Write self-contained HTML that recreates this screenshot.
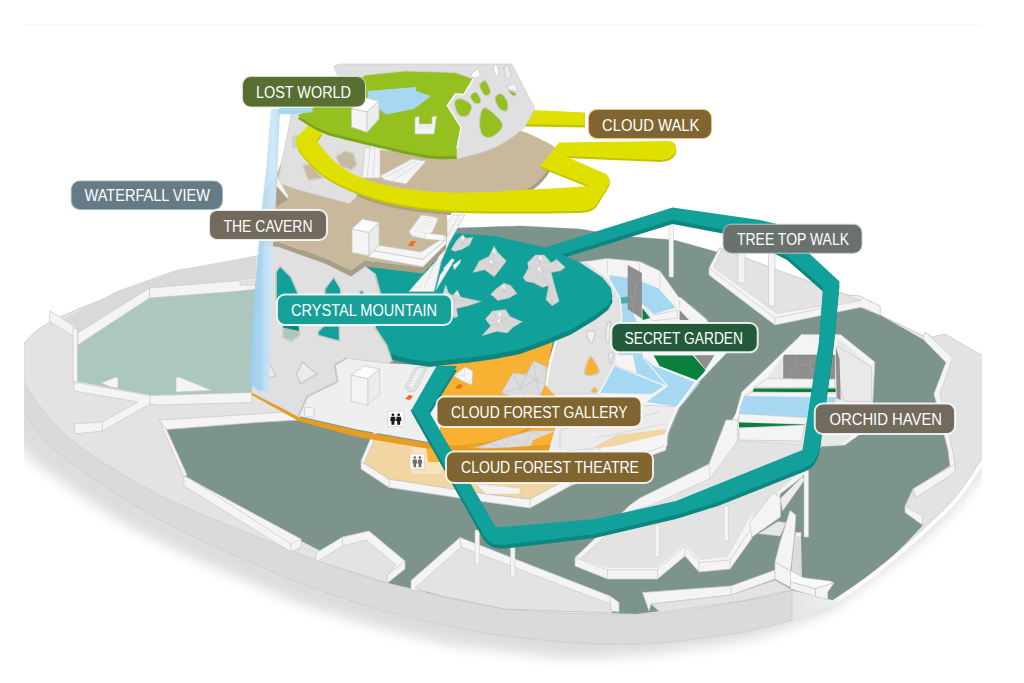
<!DOCTYPE html>
<html lang="en"><head><meta charset="utf-8"><title>Cloud Forest map</title>
<style>
html,body{margin:0;padding:0;background:#fff;}
body{width:1024px;height:683px;overflow:hidden;font-family:"Liberation Sans",sans-serif;}
svg{display:block}
svg text{font-family:"Liberation Sans",sans-serif;fill:#fff}
</style></head><body>
<svg width="1024" height="683" viewBox="0 0 1024 683">
<defs>
<clipPath id="clip"><rect x="24" y="0" width="958" height="683"/></clipPath>
<filter id="blur" x="-10%" y="-10%" width="120%" height="130%"><feGaussianBlur stdDeviation="6.5"/></filter>
<linearGradient id="wf" x1="0" y1="0" x2="1" y2="0">
<stop offset="0" stop-color="#9acbed"/><stop offset="0.38" stop-color="#a3d3f1"/><stop offset="0.5" stop-color="#bcdff5"/><stop offset="0.8" stop-color="#cde7f8"/><stop offset="1" stop-color="#b3dbf4"/>
</linearGradient>
<linearGradient id="rimg" gradientUnits="userSpaceOnUse" x1="0" y1="0" x2="1024" y2="0">
<stop offset="0" stop-color="#dadada"/><stop offset="0.773" stop-color="#dadada"/><stop offset="0.774" stop-color="#e6e6e6"/><stop offset="0.81" stop-color="#ececec"/><stop offset="0.83" stop-color="#fbfbfb"/><stop offset="1" stop-color="#fdfdfd"/>
</linearGradient>
</defs>
<rect x="0" y="0" width="1024" height="683" fill="#ffffff"/>
<rect x="24" y="24.5" width="958" height="1" fill="#f6f6f6"/>
<g clip-path="url(#clip)">
<path d="M990,440 L800,560 L600,590 L300,520 L0,370 L0.0,395.0 C1.2,400.0 4.2,417.0 7.0,425.0 C9.8,433.0 12.7,437.0 17.0,443.0 C21.3,449.0 26.3,455.2 33.0,461.0 C39.7,466.8 48.7,472.0 57.0,478.0 C65.3,484.0 72.0,489.5 83.0,497.0 C94.0,504.5 110.7,515.8 123.0,523.0 C135.3,530.2 147.0,535.0 157.0,540.0 C167.0,545.0 172.0,547.8 183.0,553.0 C194.0,558.2 209.7,565.2 223.0,571.0 C236.3,576.8 251.3,583.0 263.0,588.0 C274.7,593.0 281.3,596.7 293.0,601.0 C304.7,605.3 321.3,610.3 333.0,614.0 C344.7,617.7 353.0,620.2 363.0,623.0 C373.0,625.8 378.0,627.3 393.0,631.0 C408.0,634.7 437.2,642.0 453.0,645.0 C468.8,648.0 473.0,647.2 488.0,649.0 C503.0,650.8 527.2,654.5 543.0,656.0 C558.8,657.5 569.9,658.0 583.0,658.0 C596.1,658.0 609.3,656.5 621.9,655.7 C634.5,655.0 648.0,654.7 658.6,653.5 C669.2,652.3 676.6,649.9 685.6,648.6 C694.6,647.3 700.9,647.6 712.6,645.7 C724.3,643.8 742.8,640.5 755.8,637.2 C768.8,634.0 778.1,630.5 790.4,626.1 C802.6,621.7 819.7,615.4 829.2,610.8 C838.8,606.1 837.8,605.5 847.6,598.2 C857.4,590.9 874.9,577.2 888.0,567.0 C901.1,556.8 913.8,548.0 926.0,537.0 C938.2,526.0 949.8,514.3 961.0,501.0 C972.2,487.7 987.7,464.3 993.0,457.0 Z" fill="#dddddd" filter="url(#blur)"/>
<path d="M24,343 C32,334 40,327 50,322 C90,302 170,272 256,256 L300,250 L457,228 L520,226 L580,229 L620,236 L674,240 L717,252 L720,248 L780,272 L847,295 L859,296 L880,306 L880,315 L924,336 L925,332.5 L932,337 L945,334 L990,360 L994,450 C992.6,451.9 991.3,453.3 985.5,461.6 C979.7,469.9 968.4,488.5 959.0,499.8 C949.6,511.1 939.2,520.1 929.4,529.4 C919.6,538.7 909.8,547.2 900.0,555.5 C890.2,563.8 881.3,571.4 870.6,579.4 C859.9,587.4 841.8,599.7 836.0,603.8 L828,606 L792,620 C760,630 720,637 695,639 C670,643 650,644 636,644 C600,645 560,643 505,636 C470,632 410,618 380,610 C350,601 310,588 280,575 C240,558 200,540 174,527 C140,510 100,484 74,465 C50,448 34,430 24,412 Z" fill="url(#rimg)" />
<path d="M24,412 C34,430 50,448 74,465 C100,484 140,510 174,527 C200,540 240,558 280,575 C310,588 350,601 380,610 C410,618 470,632 505,636 C560,643 600,645 636,644 C650,644 670,643 695,639 C720,637 760,630 792,620 L792,590" fill="none" stroke="#cccccc" stroke-width="0.8" stroke-linejoin="round" stroke-linecap="round" />
<path d="M24,343 C32,334 40,327 50,322 C90,302 170,272 256,256 L300,250 L457,228 L520,226 L580,229 L620,236 L674,240 L717,252 L720,248 L780,272 L847,295 L859,296 L880,306 L880,315 L924,336 L925,332.5 L932,337 L945,334 L990,360 L990,446 C988.7,448.1 987.7,450.2 982.0,458.6 C976.3,467.0 965.0,485.4 955.7,496.6 C946.4,507.8 936.2,516.8 926.4,526.0 C916.6,535.2 906.8,543.7 897.0,552.0 C887.2,560.3 878.5,567.7 867.8,575.7 C857.1,583.7 838.6,596.0 832.7,600.0 L792,590 C775,596 760,599 742,601 C700,609 670,614 636,614 C600,615 560,614 505,609 C470,604 410,590 380,581 C350,572 310,559 280,546 C240,530 200,514 174,502 C140,486 100,462 74,442 C50,422 34,400 24,382 Z" fill="#e3e3e3" stroke="#cdcdcd" stroke-width="0.8" stroke-linejoin="round" stroke-linecap="round" />
<path d="M163,425 L256,418 L300,415 L420,300 L457,228 L520,226 L580,229 L620,236 L674,240 L717,252 L880,315 L924,340 L946,362 L934,394 L950,440 L955,464 L913,489 L905,506 L923.5,524.5 C919.1,529.1 906.3,543.5 897.0,552.0 C887.7,560.5 878.5,567.7 867.8,575.7 C857.1,583.7 838.6,596.0 832.7,600.0 L792,590 L742,601 L636,614 L505,609 L442,596 L380,581 L301,541 L186,477 Z" fill="#7c948c" />
<polygon points="150,296 240,290 264,288 252,393 157,395 150,395 75,381 77.5,345" fill="#abc7be" />
<polygon points="50,311 76,327 78,333 149,288 240,280 256,278 256,256 176,270 117,291 51,326" fill="#d9d9d9" />
<polygon points="149.4,288 240,280.5 240,285 256,285 256,289 240,291 149.4,298" fill="#f4f4f4" stroke="#c9c9c9" stroke-width="0.7" stroke-linejoin="round" />
<polygon points="149.4,288 149.4,298 77.6,345 77.6,333" fill="#f4f4f4" stroke="#c9c9c9" stroke-width="0.7" stroke-linejoin="round" />
<polygon points="49.8,310.7 76,327.4 76,337.7 49.8,321.6" fill="#f4f4f4" stroke="#c9c9c9" stroke-width="0.7" stroke-linejoin="round" />
<polygon points="73,327 77.6,330 77.6,382 73,382" fill="#f4f4f4" stroke="#c9c9c9" stroke-width="0.7" stroke-linejoin="round" />
<polygon points="74,382 150,395.5 157,395.5 252,392.5 252,402.5 159,405 150,404 102.5,431 75,434 74,424 102,422 138,402 74,391" fill="#f4f4f4" stroke="#c9c9c9" stroke-width="0.7" stroke-linejoin="round" />
<polyline points="150,395.5 150,404" fill="none" stroke="#c9c9c9" stroke-width="0.7" stroke-linejoin="round" stroke-linecap="round" />
<polyline points="102,422 102.5,431" fill="none" stroke="#c9c9c9" stroke-width="0.7" stroke-linejoin="round" stroke-linecap="round" />
<polygon points="101,383 116,377 118,378 118,388 110,387" fill="#f4f4f4" stroke="#c9c9c9" stroke-width="0.7" stroke-linejoin="round" />
<polygon points="176,377.5 179,377 212,390.5 176,392" fill="#f4f4f4" stroke="#c9c9c9" stroke-width="0.7" stroke-linejoin="round" />
<polygon points="159,420 256,414 300,411 300,420 256,422.5 166.5,429.5" fill="#f4f4f4" stroke="#c9c9c9" stroke-width="0.7" stroke-linejoin="round" />
<polygon points="159,420 166.5,429.5 187,475 184,477" fill="#f4f4f4" stroke="#c9c9c9" stroke-width="0.7" stroke-linejoin="round" />
<polygon points="184,476 301,539 301,547 291,552 184,486" fill="#f4f4f4" stroke="#c9c9c9" stroke-width="0.7" stroke-linejoin="round" />
<polyline points="291,544 301,539" fill="none" stroke="#c9c9c9" stroke-width="0.7" stroke-linejoin="round" stroke-linecap="round" />
<polyline points="291,544 291,552" fill="none" stroke="#c9c9c9" stroke-width="0.7" stroke-linejoin="round" stroke-linecap="round" />
<polyline points="186,476 291,544" fill="none" stroke="#c9c9c9" stroke-width="0.7" stroke-linejoin="round" stroke-linecap="round" />
<polygon points="316,553 342.5,537 369,531 405,561 405,569 387.5,583 316,561" fill="#f4f4f4" stroke="#c9c9c9" stroke-width="0.7" stroke-linejoin="round" />
<polygon points="318,561 342.5,546 366,540 396,565 387.5,575 387.5,583" fill="#e3e3e3" stroke="#c9c9c9" stroke-width="0.7" stroke-linejoin="round" />
<polyline points="342.5,537 342.5,546" fill="none" stroke="#c9c9c9" stroke-width="0.7" stroke-linejoin="round" stroke-linecap="round" />
<polyline points="405,561 387.5,575" fill="none" stroke="#c9c9c9" stroke-width="0.7" stroke-linejoin="round" stroke-linecap="round" />
<polygon points="411,580.5 460,537.5 610,596 619,602.5 619,612 411,590" fill="#f4f4f4" stroke="#c9c9c9" stroke-width="0.7" stroke-linejoin="round" />
<polygon points="415,588 461,547 610,604 612,613 505,609 442,596" fill="#e3e3e3" stroke="#c9c9c9" stroke-width="0.7" stroke-linejoin="round" />
<polyline points="610,596 610,604" fill="none" stroke="#c9c9c9" stroke-width="0.7" stroke-linejoin="round" stroke-linecap="round" />
<polyline points="460,537.5 461,547" fill="none" stroke="#c9c9c9" stroke-width="0.7" stroke-linejoin="round" stroke-linecap="round" />
<polygon points="361,461 389,479 486,494 530,499 570,477.5 666,442.5 666,450 570,486 530,508 486,502 389,487.5 361,469" fill="#f4f4f4" stroke="#c9c9c9" stroke-width="0.7" stroke-linejoin="round" />
<polyline points="389,479 389,487.5" fill="none" stroke="#c9c9c9" stroke-width="0.7" stroke-linejoin="round" stroke-linecap="round" />
<polyline points="530,499 530,508" fill="none" stroke="#c9c9c9" stroke-width="0.7" stroke-linejoin="round" stroke-linecap="round" />
<polyline points="570,477.5 570,486" fill="none" stroke="#c9c9c9" stroke-width="0.7" stroke-linejoin="round" stroke-linecap="round" />
<polygon points="377,436 412,442 486,450 600,436 640,428 666,442.5 570,477.5 530,499 486,494 389,479 361,461" fill="#f1d5a2" stroke="#c9c9c9" stroke-width="0.7" stroke-linejoin="round" />
<polygon points="414.5,444.5 441.8,444.5 470,447 520,452 556,445 600,438 640,430 600,436 560,452 520,462 445.7,462 428,462 426,454 414.5,446.5" fill="#f8b133" />
<polygon points="411.5,446.5 426,446.5 428,462 441.8,462 441.8,474 411.5,474" fill="#f6e2bd" />
<polygon points="476,484 520,488 520,494 486,494" fill="#f3f3f3" stroke="#c9c9c9" stroke-width="0.4" stroke-linejoin="round" />
<polygon points="376,426 379.5,427 364,463 361,461" fill="#f4f4f4" stroke="#c9c9c9" stroke-width="0.7" stroke-linejoin="round" />
<polygon points="425,360 556,338 552.7,341.4 548.9,360.4 547,385 554.6,394.7 556,425 548,450 486,452 430,446 412,410" fill="#f8b133" />
<path d="M448,447 C480,446 510,440 530,428" fill="none" stroke="#e59d22" stroke-width="2.2" stroke-linejoin="round" stroke-linecap="round" />
<polygon points="453.8,375.7 465,367 472.8,371 471.8,385 461.4,380.4" fill="#f6f6f6" stroke="#c9c9c9" stroke-width="0.7" stroke-linejoin="round" />
<polyline points="465,367 464,376 471.8,385" fill="none" stroke="#c9c9c9" stroke-width="0.4" stroke-linejoin="round" stroke-linecap="round" />
<polyline points="453.8,375.7 464,376" fill="none" stroke="#c9c9c9" stroke-width="0.4" stroke-linejoin="round" stroke-linecap="round" />
<polygon points="501.3,392.8 512.7,372.8 526,374.7 533.7,360.4 547,367 545,385 540,396 515,398" fill="#dcdcdc" stroke="#b9b9b9" stroke-width="0.5" stroke-linejoin="round" />
<polyline points="512.7,372.8 520,388 533.7,360.4 536,380 547,367" fill="none" stroke="#b9b9b9" stroke-width="0.4" stroke-linejoin="round" stroke-linecap="round" />
<polyline points="501.3,392.8 520,388 536,380 545,385" fill="none" stroke="#b9b9b9" stroke-width="0.4" stroke-linejoin="round" stroke-linecap="round" />
<polyline points="526,374.7 536,380 540,396" fill="none" stroke="#b9b9b9" stroke-width="0.4" stroke-linejoin="round" stroke-linecap="round" />
<polyline points="520,388 528,398" fill="none" stroke="#b9b9b9" stroke-width="0.4" stroke-linejoin="round" stroke-linecap="round" />
<polygon points="474.7,448 509,436.5 531.8,430.8 556.5,430.8 548,440 524,448" fill="#dcdcdc" stroke="#b9b9b9" stroke-width="0.5" stroke-linejoin="round" />
<polyline points="509,436.5 524,448 531.8,430.8 548,440" fill="none" stroke="#b9b9b9" stroke-width="0.4" stroke-linejoin="round" stroke-linecap="round" />
<polyline points="490,443 505,448 509,436.5" fill="none" stroke="#b9b9b9" stroke-width="0.4" stroke-linejoin="round" stroke-linecap="round" />
<polygon points="533,440 556,431 552,442 530,448" fill="#f8b133" />
<polygon points="251.7,392.5 298.6,417 357,430.6 423.6,442.3 486,449 560,444 560,452 486,456 423.6,448 357,437 298.6,421 251.7,395" fill="#e59d22" />
<polygon points="298.6,416 307.4,396.4 337.6,381.75 334.7,365 346.4,358.3 388.4,363.2 440,366 440,443 423.6,441.3 357,429.6" fill="#efefef" />
<polygon points="304.5,407 314,408 314,417.5 304.5,416" fill="#f4f4f4" stroke="#c9c9c9" stroke-width="0.7" stroke-linejoin="round" />
<polygon points="351.3,375 351.3,401.3 368,405.2 368,378.8" fill="#f4f4f4" stroke="#c9c9c9" stroke-width="0.7" stroke-linejoin="round" />
<polygon points="351.3,375 364,366 379.6,369 368,378.8" fill="#fbfbfb" stroke="#c9c9c9" stroke-width="0.7" stroke-linejoin="round" />
<polygon points="368,378.8 379.6,369 379.6,394.5 368,405.2" fill="#ececec" stroke="#c9c9c9" stroke-width="0.7" stroke-linejoin="round" />
<polygon points="405,386.6 415.8,367 427.5,367 416,390.5 409,392" fill="#e2e2e2" stroke="#c9c9c9" stroke-width="0.7" stroke-linejoin="round" />
<polygon points="408,387 418,368 424,368 413,388" fill="#f4f4f4" stroke="#c9c9c9" stroke-width="0.4" stroke-linejoin="round" />
<polyline points="409.0,386.0 414.0,386.5" fill="none" stroke="#d0d0d0" stroke-width="0.4" stroke-linejoin="round" stroke-linecap="round" />
<polyline points="410.5,383.3 415.5,383.8" fill="none" stroke="#d0d0d0" stroke-width="0.4" stroke-linejoin="round" stroke-linecap="round" />
<polyline points="412.0,380.6 417.0,381.1" fill="none" stroke="#d0d0d0" stroke-width="0.4" stroke-linejoin="round" stroke-linecap="round" />
<polyline points="413.5,377.9 418.5,378.4" fill="none" stroke="#d0d0d0" stroke-width="0.4" stroke-linejoin="round" stroke-linecap="round" />
<polyline points="415.0,375.2 420.0,375.7" fill="none" stroke="#d0d0d0" stroke-width="0.4" stroke-linejoin="round" stroke-linecap="round" />
<polyline points="416.5,372.5 421.5,373.0" fill="none" stroke="#d0d0d0" stroke-width="0.4" stroke-linejoin="round" stroke-linecap="round" />
<polyline points="418.0,369.8 423.0,370.3" fill="none" stroke="#d0d0d0" stroke-width="0.4" stroke-linejoin="round" stroke-linecap="round" />
<polygon points="405,399 409,395 413,396 410,400" fill="#f26a21" />
<polygon points="455,388 459,384 463,385 460,389" fill="#f26a21" />
<g opacity="1"><rect x="387.5" y="411" width="16.5" height="15.7" fill="#ffffff" stroke="#c9c9c9" stroke-width="0.6"/>
<circle cx="392.9" cy="414.8" r="1.40" fill="#1a1a1a"/>
<path d="M390.8,416.7 h4.3 l0.5,4.2 h-1.2 v3.9 h-3.0 v-3.9 h-1.2 Z" fill="#1a1a1a"/>
<circle cx="398.7" cy="414.8" r="1.40" fill="#1a1a1a"/>
<path d="M396.6,416.7 h4.3 l0.5,4.2 h-1.2 v3.9 h-3.0 v-3.9 h-1.2 Z" fill="#1a1a1a"/>
</g>
<g opacity="0.85"><rect x="410" y="454" width="14.5" height="15" fill="#ffffff" stroke="#c9c9c9" stroke-width="0.6"/>
<circle cx="414.8" cy="457.6" r="1.23" fill="#555555"/>
<path d="M412.9,459.4 h3.8 l0.4,4.1 h-1.0 v3.8 h-2.6 v-3.8 h-1.0 Z" fill="#555555"/>
<circle cx="419.9" cy="457.6" r="1.23" fill="#555555"/>
<path d="M418.0,459.4 h3.8 l0.4,4.1 h-1.0 v3.8 h-2.6 v-3.8 h-1.0 Z" fill="#555555"/>
</g>
<polygon points="719.6,247.8 709,268 709,275 775,325 862,307 880,315 880,306 859,296 847,295 780,271" fill="#f4f4f4" stroke="#c9c9c9" stroke-width="0.7" stroke-linejoin="round" />
<polygon points="721.5,249.5 713.5,267.5 777,313.5 860,299.5 847,295.3 780,271.3" fill="#e3e3e3" stroke="#c9c9c9" stroke-width="0.5" stroke-linejoin="round" />
<polyline points="775,318 775,325" fill="none" stroke="#c9c9c9" stroke-width="0.7" stroke-linejoin="round" stroke-linecap="round" />
<polyline points="709,268 775,318 862,300" fill="none" stroke="#c9c9c9" stroke-width="0.7" stroke-linejoin="round" stroke-linecap="round" />
<polygon points="738,250 745,250 745,283 738,283" fill="#f4f4f4" stroke="#c9c9c9" stroke-width="0.7" stroke-linejoin="round" />
<polygon points="768.5,250 775,250 775,306 768.5,306" fill="#f4f4f4" stroke="#c9c9c9" stroke-width="0.7" stroke-linejoin="round" />
<polygon points="556,338 622,322 640,330 660,400 666,434 648,452 548,454 556,425 554.6,394.7 547,385 548.9,360.4" fill="#ececec" />
<polygon points="586,261.5 607,258.5 639.6,261.5 660,271 679.6,298.6 705,320 725,352.5 722,356 694.8,384 677,408 666.4,433.75 665.5,445.5 648,452 600,452 600,300" fill="#f4f4f4" stroke="#c9c9c9" stroke-width="0.7" stroke-linejoin="round" />
<path d="M607.3,258.5 V274 M639.6,261.5 V279 M660,271 V288 M679.6,298.6 V308" fill="none" stroke="#c9c9c9" stroke-width="0.6" stroke-linejoin="round" stroke-linecap="round" />
<polygon points="609,275 629,278 642.5,282 658,288 675.7,307.4 654,314 642.5,304.5 625,300 612,295" fill="#a6d8f2" />
<polygon points="618,290 628,290 632,310 640,330 643,358 665.6,385 652,394.7 599,393.7 616,362 620,328 621.8,309" fill="#a6d8f2" />
<polygon points="642.7,356 654,366 692,381 700,383 684.6,402 679,407 646.5,402 660,392 668,386" fill="#a6d8f2" />
<polygon points="620,297.6 628.5,296.6 628.5,303 620,304" fill="#46b0ae" />
<polyline points="616,366 665.5,386 652,394.7 600,393.7" fill="none" stroke="#f1f1f1" stroke-width="1.6" stroke-linejoin="round" stroke-linecap="round" />
<polygon points="614,354.7 633,354.7 637,373.7 616,366" fill="#f4f4f4" stroke="#c9c9c9" stroke-width="0.5" stroke-linejoin="round" />
<polygon points="628,265.4 641.5,273 641.5,318 628,309" fill="#8e8e8e" stroke="#7a7a7a" stroke-width="0.5" stroke-linejoin="round" />
<polyline points="628,280 636,284 641,279" fill="none" stroke="#a9a9a9" stroke-width="0.4" stroke-linejoin="round" stroke-linecap="round" />
<polyline points="636,284 634,298 641,302" fill="none" stroke="#a9a9a9" stroke-width="0.4" stroke-linejoin="round" stroke-linecap="round" />
<polyline points="628,296 634,298 633,312" fill="none" stroke="#a9a9a9" stroke-width="0.4" stroke-linejoin="round" stroke-linecap="round" />
<polygon points="642.5,308 650,318 642.5,320" fill="#0a7f3e" />
<polygon points="644.5,304.5 654,315 677.6,310 677.6,318 652,321" fill="#f4f4f4" stroke="#c9c9c9" stroke-width="0.7" stroke-linejoin="round" />
<polygon points="679.6,310 689,320 679.6,320" fill="#8e8e8e" />
<polygon points="653.75,355.6 692.8,355.6 705.5,370 698.7,381 659.6,366" fill="#0a7f3e" />
<polygon points="694.8,355.6 714,355.6 705.5,369" fill="#8e8e8e" stroke="#7a7a7a" stroke-width="0.4" stroke-linejoin="round" />
<polygon points="600,420 642,405 679,407 665.5,433.75 618.6,434.7 593,448.4 560,452 560,430" fill="#ececec" stroke="#c9c9c9" stroke-width="0.7" stroke-linejoin="round" />
<polyline points="600,428 660,412" fill="none" stroke="#c9c9c9" stroke-width="0.5" stroke-linejoin="round" stroke-linecap="round" />
<polyline points="596,438 664,424" fill="none" stroke="#c9c9c9" stroke-width="0.5" stroke-linejoin="round" stroke-linecap="round" />
<polygon points="593,448.4 618.6,434.7 666.4,428.9 665.5,433.75 612.7,446.4" fill="#f1d5a2" />
<polyline points="679.6,298.6 705,320 725,352.5 694.8,384 677,408 666.4,433.75 665.5,445.5" fill="none" stroke="#f7f7f7" stroke-width="2.6" stroke-linejoin="round" stroke-linecap="round" />
<polyline points="681,297.6 707,319 727,352.5 696.8,385 679,409 668.4,434 667.5,446" fill="none" stroke="#c9c9c9" stroke-width="0.6" stroke-linejoin="round" stroke-linecap="round" />
<polygon points="801.5,334.6 840.6,334.6 874.8,362 872.8,402 872.8,425 845,445 713.7,453 736,413.75 742,392" fill="#f4f4f4" stroke="#c9c9c9" stroke-width="0.7" stroke-linejoin="round" />
<polygon points="802.5,338.5 836.7,338.5 836.7,355 783.6,355 767,378.6 754,388 744,397 739,414 718,452 840,445 868,424 871.8,366.9 840.6,340" fill="#e7e7e7" />
<polygon points="836.7,346 871.8,366.9 871.8,402 844.5,401 840.6,390" fill="#e9e9e9" stroke="#c9c9c9" stroke-width="0.7" stroke-linejoin="round" />
<polygon points="783.6,355 834.8,355 834.8,378.6 783.6,378.6" fill="#8e8e8e" stroke="#7a7a7a" stroke-width="0.5" stroke-linejoin="round" />
<polyline points="795,355 797,366 790,372 791,378.6" fill="none" stroke="#a9a9a9" stroke-width="0.4" stroke-linejoin="round" stroke-linecap="round" />
<polyline points="797,366 810,364 815,355" fill="none" stroke="#a9a9a9" stroke-width="0.4" stroke-linejoin="round" stroke-linecap="round" />
<polyline points="810,364 812,378.6" fill="none" stroke="#a9a9a9" stroke-width="0.4" stroke-linejoin="round" stroke-linecap="round" />
<polyline points="812,370 826,368 834,372" fill="none" stroke="#a9a9a9" stroke-width="0.4" stroke-linejoin="round" stroke-linecap="round" />
<polyline points="826,368 824,355" fill="none" stroke="#a9a9a9" stroke-width="0.4" stroke-linejoin="round" stroke-linecap="round" />
<polygon points="835.7,347 839.6,359 840.6,400 836.7,398" fill="#8e8e8e" />
<polygon points="767,378.6 834.8,379.6 834.8,387.4 754.7,387.4" fill="#f4f4f4" stroke="#c9c9c9" stroke-width="0.7" stroke-linejoin="round" />
<polygon points="753.7,388.4 835.7,388.4 835.7,392 752.7,392" fill="#0a7f3e" />
<polygon points="752,392 836,393 836.7,397.7 744,396.6" fill="#f4f4f4" stroke="#c9c9c9" stroke-width="0.7" stroke-linejoin="round" />
<polygon points="744,396.6 836.7,397.7 834.8,402 809.4,417.7 739,413.75 740,406" fill="#a6d8f2" />
<polygon points="739,413.75 809.4,417.7 805.5,424.5 739,422.5" fill="#f4f4f4" stroke="#c9c9c9" stroke-width="0.7" stroke-linejoin="round" />
<polygon points="739,422.5 805.5,424.5 789.8,426.4 739,427.4" fill="#0a7f3e" />
<polygon points="739,428 805,425 801,441 739,440" fill="#f4f4f4" stroke="#c9c9c9" stroke-width="0.7" stroke-linejoin="round" />
<polygon points="737,441 802.5,445 800,453 727,453" fill="#e3e3e3" />
<polyline points="801.5,334.6 742,392 736,413.75 713.7,453" fill="none" stroke="#c9c9c9" stroke-width="0.7" stroke-linejoin="round" stroke-linecap="round" />
<polyline points="802.5,336 743,393 737,414 715,453" fill="none" stroke="#fafafa" stroke-width="2" stroke-linejoin="round" stroke-linecap="round" />
<polygon points="924,332.5 927.5,334 952.5,357.5 940,394 952.5,450 955,464 955,472.5 916,497.5 913,489 950,466 948,450 934,394 946,362.5 924,340" fill="#f4f4f4" stroke="#c9c9c9" stroke-width="0.7" stroke-linejoin="round" />
<polygon points="905,506 922.5,516 922.5,525 905,512.5" fill="#f4f4f4" stroke="#c9c9c9" stroke-width="0.7" stroke-linejoin="round" />
<polygon points="913,489 955,464 955,472.5 916,497.5" fill="#f4f4f4" stroke="#c9c9c9" stroke-width="0.7" stroke-linejoin="round" />
<polyline points="913,489 905,506" fill="none" stroke="#c9c9c9" stroke-width="0.7" stroke-linejoin="round" stroke-linecap="round" />
<polygon points="575,557.5 630,505 640,498 709,464 726,420 737.6,420 737.6,441 802,445 822,445 804,475 795,482.5 780,494 780,515 752.5,520 752,538 730,569 699,572 685,556 657.5,579 607.5,579 575,566" fill="#f4f4f4" stroke="#c9c9c9" stroke-width="0.7" stroke-linejoin="round" />
<polygon points="580,559 634,510 651.7,505 710,478.6 737.6,441 802,445 814,448 800,472 778,492 776,512 750,517 728,557 700,560 685,544 657,568 608,568" fill="#e3e3e3" />
<polyline points="580,559 634,510 651.7,505 710,478.6 737.6,441" fill="none" stroke="#c9c9c9" stroke-width="0.6" stroke-linejoin="round" stroke-linecap="round" />
<polyline points="709,464 710,478.6" fill="none" stroke="#c9c9c9" stroke-width="0.6" stroke-linejoin="round" stroke-linecap="round" />
<polyline points="607.5,570 607.5,579" fill="none" stroke="#c9c9c9" stroke-width="0.7" stroke-linejoin="round" stroke-linecap="round" />
<polyline points="657.5,570 657.5,579" fill="none" stroke="#c9c9c9" stroke-width="0.7" stroke-linejoin="round" stroke-linecap="round" />
<polyline points="685,546 685,556" fill="none" stroke="#c9c9c9" stroke-width="0.7" stroke-linejoin="round" stroke-linecap="round" />
<polyline points="699,562.5 699,572" fill="none" stroke="#c9c9c9" stroke-width="0.7" stroke-linejoin="round" stroke-linecap="round" />
<polyline points="730,560 730,569" fill="none" stroke="#c9c9c9" stroke-width="0.7" stroke-linejoin="round" stroke-linecap="round" />
<polyline points="575,557.5 607.5,570 657.5,570 685,546 699,562.5 730,560 750,530" fill="none" stroke="#c9c9c9" stroke-width="0.7" stroke-linejoin="round" stroke-linecap="round" />
<polygon points="749.7,522.7 773.8,492 780.4,498.6 780.4,517 751.9,537" fill="#f4f4f4" stroke="#c9c9c9" stroke-width="0.7" stroke-linejoin="round" />
<polygon points="780.4,498.6 802.5,476.6 804.5,480 782.6,511" fill="#ececec" stroke="#c9c9c9" stroke-width="0.7" stroke-linejoin="round" />
<polygon points="758.5,533.7 778,521.6 786,522.7 780,536" fill="#ececec" stroke="#c9c9c9" stroke-width="0.5" stroke-linejoin="round" />
<polyline points="761.0,533.0 781.0,535.5" fill="none" stroke="#cfcfcf" stroke-width="0.4" stroke-linejoin="round" stroke-linecap="round" />
<polyline points="764.4,531.0 782.0,533.3" fill="none" stroke="#cfcfcf" stroke-width="0.4" stroke-linejoin="round" stroke-linecap="round" />
<polyline points="767.8,529.0 783.0,531.1" fill="none" stroke="#cfcfcf" stroke-width="0.4" stroke-linejoin="round" stroke-linecap="round" />
<polyline points="771.2,527.0 784.0,528.9" fill="none" stroke="#cfcfcf" stroke-width="0.4" stroke-linejoin="round" stroke-linecap="round" />
<polyline points="774.6,525.0 785.0,526.7" fill="none" stroke="#cfcfcf" stroke-width="0.4" stroke-linejoin="round" stroke-linecap="round" />
<polyline points="778.0,523.0 786.0,524.5" fill="none" stroke="#cfcfcf" stroke-width="0.4" stroke-linejoin="round" stroke-linecap="round" />
<polygon points="794.7,536 801,536 802,580 790.5,578" fill="#dcdcdc" />
<polygon points="795.5,532.5 801,532.5 801,537 795.5,537" fill="#f4f4f4" stroke="#c9c9c9" stroke-width="0.5" stroke-linejoin="round" />
<polygon points="790,510.6 795.8,515 794.7,533.7 790.5,571 775,562 780,542.5" fill="#f4f4f4" stroke="#c9c9c9" stroke-width="0.7" stroke-linejoin="round" />
<polygon points="642.5,592.5 731,586 775,570 775,579 731,595 651,604 649,611" fill="#f4f4f4" stroke="#c9c9c9" stroke-width="0.7" stroke-linejoin="round" />
<polygon points="651,604 731,595 775,580 792,590 742,601 660,612" fill="#e3e3e3" stroke="#c9c9c9" stroke-width="0.7" stroke-linejoin="round" />
<polyline points="731,586 731,595" fill="none" stroke="#c9c9c9" stroke-width="0.7" stroke-linejoin="round" stroke-linecap="round" />
<polygon points="775,562 790.5,571 790.5,587.6 775,579" fill="#f4f4f4" stroke="#c9c9c9" stroke-width="0.7" stroke-linejoin="round" />
<polygon points="790.5,571 803.5,577.7 830,581 834,583 828.8,584.3 815.6,588.7 790.5,582" fill="#fafafa" stroke="#c9c9c9" stroke-width="0.5" stroke-linejoin="round" />
<polygon points="790.5,582 815.6,588.7 815.6,596.4 790.5,588.7" fill="#f4f4f4" stroke="#c9c9c9" stroke-width="0.7" stroke-linejoin="round" />
<polygon points="815.6,588.7 828.8,584.3 834,583 827.7,592 827.7,599.7 815.6,596.4" fill="#f4f4f4" stroke="#c9c9c9" stroke-width="0.7" stroke-linejoin="round" />
<polygon points="669,225 673.5,225 673.5,277 669,277" fill="#f4f4f4" stroke="#c9c9c9" stroke-width="0.5" stroke-linejoin="round" />
<polygon points="475,530 479.5,530 479.5,564 475,564" fill="#f4f4f4" stroke="#c9c9c9" stroke-width="0.5" stroke-linejoin="round" />
<polygon points="510.5,547 515.0,547 515.0,577 510.5,577" fill="#f4f4f4" stroke="#c9c9c9" stroke-width="0.5" stroke-linejoin="round" />
<polygon points="655,525 659.5,525 659.5,557 655,557" fill="#f4f4f4" stroke="#c9c9c9" stroke-width="0.5" stroke-linejoin="round" />
<polygon points="724,506 728.5,506 728.5,541 724,541" fill="#f4f4f4" stroke="#c9c9c9" stroke-width="0.5" stroke-linejoin="round" />
<polygon points="804,470 808.5,470 808.5,537 804,537" fill="#f4f4f4" stroke="#c9c9c9" stroke-width="0.5" stroke-linejoin="round" />
<polygon points="557,339.5 560,300 580,262 586,261.5 609,279 620,298.6 622,318 616,362 599,393.7 553,393.7 545.7,385 547.6,370" fill="#e2e2e2" stroke="#cfcfcf" stroke-width="0.8" stroke-linejoin="round" />
<polyline points="586,261.5 609,279 620,298.6 622,318 616,362 599,393.7" fill="none" stroke="#f6f6f6" stroke-width="1.4" stroke-linejoin="round" stroke-linecap="round" />
<polyline points="556,341 548.5,370 546.5,385" fill="none" stroke="#f8f8f8" stroke-width="2.2" stroke-linejoin="round" stroke-linecap="round" />
<path d="M584.7,373.7 C583.9,370.7 588.0,357.2 590.4,356.6 C592.8,356.0 598.2,367.0 599.0,370.0 C599.8,373.0 597.4,374.1 595.0,374.7 C592.6,375.3 585.5,376.7 584.7,373.7 Z" fill="#f8b133" stroke="#cdcdcd" stroke-width="1.2" stroke-linejoin="round" stroke-linecap="round" />
<path d="M591.0,392.0 C590.7,391.2 594.0,387.0 595.0,387.0 C596.0,387.0 597.7,391.2 597.0,392.0 C596.3,392.8 591.3,392.8 591.0,392.0 Z" fill="#f8b133" stroke="#cdcdcd" stroke-width="0.8" stroke-linejoin="round" stroke-linecap="round" />
<path d="M586.6,332.8 C587.2,330.9 594.2,330.1 595.0,331.9 C595.8,333.6 592.8,343.1 591.4,343.3 C590.0,343.5 586.0,334.7 586.6,332.8 Z" fill="#f0f0f0" stroke="#cdcdcd" stroke-width="1.2" stroke-linejoin="round" stroke-linecap="round" />
<path d="M606.6,326.0 C607.4,323.1 609.9,319.5 610.4,322.0 C610.9,324.5 610.2,338.1 609.4,341.0 C608.6,343.9 606.1,342.0 605.6,339.5 C605.1,337.0 605.8,328.9 606.6,326.0 Z" fill="#ececec" stroke="#cdcdcd" stroke-width="1.2" stroke-linejoin="round" stroke-linecap="round" />
<path d="M608.5,354.7 C608.8,352.8 612.6,351.2 613.0,352.8 C613.4,354.4 611.8,363.7 611.0,364.0 C610.2,364.3 608.2,356.6 608.5,354.7 Z" fill="#ececec" stroke="#cdcdcd" stroke-width="1.2" stroke-linejoin="round" stroke-linecap="round" />
<polygon points="276,262 300,250 400,235 452,233 495,236 545,247.5 580,262.5 602.5,277.5 611,288 612.5,297 608,305 595,315 570,330 545,340 520,349 495,354 470,357.5 445,360 430,362 410,359 390,354 340,340 300,329 276,322" fill="#0d8680" transform="translate(0,5)"/>
<polygon points="276,262 300,250 400,235 452,233 495,236 545,247.5 580,262.5 602.5,277.5 611,288 612.5,297 608,305 595,315 570,330 545,340 520,349 495,354 470,357.5 445,360 430,362 410,359 390,354 340,340 300,329 276,322" fill="#12a19a" />
<polygon points="451,249.6 456.4,240.8 462.5,234.7 466,238.2 473,237.3 469.5,245.2 461.6,249.6 454.6,251.4" fill="#d8d8d8" stroke="#b9b9b9" stroke-width="0.4" stroke-linejoin="round" />
<polyline points="456.4,240.8 462,244 469.5,245.2" fill="none" stroke="#bdbdbd" stroke-width="0.35" stroke-linejoin="round" stroke-linecap="round" />
<polyline points="462.5,234.7 462,244 461.6,249.6" fill="none" stroke="#bdbdbd" stroke-width="0.35" stroke-linejoin="round" stroke-linecap="round" />
<polyline points="466,238.2 462,244" fill="none" stroke="#bdbdbd" stroke-width="0.35" stroke-linejoin="round" stroke-linecap="round" />
<polygon points="461,238 463.5,235.5 464,241" fill="#f4f4f4" />
<polygon points="473,272.5 479.2,261 488.9,256.6 494.1,246 497.7,252.2 506.4,261 500.3,269 494.1,276.8 484.5,269.8 477.5,271.6" fill="#d8d8d8" stroke="#b9b9b9" stroke-width="0.4" stroke-linejoin="round" />
<polyline points="479.2,261 490,264 506.4,261" fill="none" stroke="#bdbdbd" stroke-width="0.35" stroke-linejoin="round" stroke-linecap="round" />
<polyline points="488.9,256.6 490,264 484.5,269.8" fill="none" stroke="#bdbdbd" stroke-width="0.35" stroke-linejoin="round" stroke-linecap="round" />
<polyline points="494.1,246 493,258 490,264 494.1,276.8" fill="none" stroke="#bdbdbd" stroke-width="0.35" stroke-linejoin="round" stroke-linecap="round" />
<polyline points="497.7,252.2 493,258" fill="none" stroke="#bdbdbd" stroke-width="0.35" stroke-linejoin="round" stroke-linecap="round" />
<polyline points="490,264 500.3,269" fill="none" stroke="#bdbdbd" stroke-width="0.35" stroke-linejoin="round" stroke-linecap="round" />
<polygon points="492.5,251 494.3,247.5 495.5,255" fill="#f4f4f4" />
<polygon points="489,262 491.5,259 492.5,265" fill="#f4f4f4" />
<polygon points="523,277.7 528.4,268 527.5,262.8 535.4,254.9 544.2,254.9 551.3,262.8 556.5,259.3 565.3,267.2 560.9,270.7 551.3,272.5 553.9,283 559.2,301.4 552.1,305.8 546,299.7 548.6,285.6 542.5,287.4 533.7,283 525.8,281.2" fill="#d8d8d8" stroke="#b9b9b9" stroke-width="0.4" stroke-linejoin="round" />
<polyline points="528.4,268 540,270 551.3,272.5" fill="none" stroke="#bdbdbd" stroke-width="0.35" stroke-linejoin="round" stroke-linecap="round" />
<polyline points="535.4,254.9 540,262 540,270 533.7,283" fill="none" stroke="#bdbdbd" stroke-width="0.35" stroke-linejoin="round" stroke-linecap="round" />
<polyline points="544.2,254.9 540,262 551.3,262.8" fill="none" stroke="#bdbdbd" stroke-width="0.35" stroke-linejoin="round" stroke-linecap="round" />
<polyline points="540,270 548.6,285.6" fill="none" stroke="#bdbdbd" stroke-width="0.35" stroke-linejoin="round" stroke-linecap="round" />
<polyline points="523,277.7 533,276 540,270" fill="none" stroke="#bdbdbd" stroke-width="0.35" stroke-linejoin="round" stroke-linecap="round" />
<polyline points="553.9,283 548.6,285.6 552.1,305.8" fill="none" stroke="#bdbdbd" stroke-width="0.35" stroke-linejoin="round" stroke-linecap="round" />
<polyline points="556.5,259.3 555,268 551.3,272.5" fill="none" stroke="#bdbdbd" stroke-width="0.35" stroke-linejoin="round" stroke-linecap="round" />
<polygon points="538.5,258 541,255.5 542.5,261.5" fill="#f4f4f4" />
<polygon points="537,269 540,266.5 541,273" fill="#f4f4f4" />
<polygon points="490.6,294.4 495.9,289 503.8,283 510.8,285.6 517,293.5 509,298 497.7,300.6 494.1,297" fill="#d8d8d8" stroke="#b9b9b9" stroke-width="0.4" stroke-linejoin="round" />
<polyline points="495.9,289 504,291 517,293.5" fill="none" stroke="#bdbdbd" stroke-width="0.35" stroke-linejoin="round" stroke-linecap="round" />
<polyline points="503.8,283 504,291 497.7,300.6" fill="none" stroke="#bdbdbd" stroke-width="0.35" stroke-linejoin="round" stroke-linecap="round" />
<polyline points="510.8,285.6 504,291 509,298" fill="none" stroke="#bdbdbd" stroke-width="0.35" stroke-linejoin="round" stroke-linecap="round" />
<polygon points="502.5,287 504.2,284 505.5,290" fill="#f4f4f4" />
<polygon points="443.2,292.7 445.8,284.8 448.5,292.7 452.8,295.3 457.2,290 460.8,297 481,301.4 468.7,305.8 456.4,308.5 458,316.4 453.7,318 450,305 444,300" fill="#d8d8d8" stroke="#b9b9b9" stroke-width="0.4" stroke-linejoin="round" />
<polyline points="448.5,292.7 455,300 460.8,297" fill="none" stroke="#bdbdbd" stroke-width="0.35" stroke-linejoin="round" stroke-linecap="round" />
<polyline points="455,300 456.4,308.5" fill="none" stroke="#bdbdbd" stroke-width="0.35" stroke-linejoin="round" stroke-linecap="round" />
<polyline points="455,300 481,301.4" fill="none" stroke="#bdbdbd" stroke-width="0.35" stroke-linejoin="round" stroke-linecap="round" />
<polyline points="452.8,295.3 455,300 450,305" fill="none" stroke="#bdbdbd" stroke-width="0.35" stroke-linejoin="round" stroke-linecap="round" />
<polygon points="456.5,294 457.5,291 459,296.5" fill="#f4f4f4" />
<polygon points="481.8,335.7 490.6,326 485.4,319 492.4,311 505.6,309.4 510,316.4 522.3,321.7 513.5,327 507.3,333 496.8,331.4" fill="#d8d8d8" stroke="#b9b9b9" stroke-width="0.4" stroke-linejoin="round" />
<polyline points="490.6,326 500,322 510,316.4" fill="none" stroke="#bdbdbd" stroke-width="0.35" stroke-linejoin="round" stroke-linecap="round" />
<polyline points="492.4,311 500,322 496.8,331.4" fill="none" stroke="#bdbdbd" stroke-width="0.35" stroke-linejoin="round" stroke-linecap="round" />
<polyline points="505.6,309.4 500,322 513.5,327" fill="none" stroke="#bdbdbd" stroke-width="0.35" stroke-linejoin="round" stroke-linecap="round" />
<polyline points="485.4,319 500,322 522.3,321.7" fill="none" stroke="#bdbdbd" stroke-width="0.35" stroke-linejoin="round" stroke-linecap="round" />
<polygon points="498,314 500,310.5 501.5,317.5" fill="#f4f4f4" />
<polygon points="497,321 499.5,318.5 501,324" fill="#f4f4f4" />
<polygon points="443,269 452,258.4 454.6,260 446.7,270.7" fill="#f4f4f4" stroke="#c9c9c9" stroke-width="0.4" stroke-linejoin="round" />
<polygon points="452.8,265.4 460.8,259.3 460,262.8 454.6,269.8" fill="#f4f4f4" stroke="#c9c9c9" stroke-width="0.4" stroke-linejoin="round" />
<polygon points="262,245 273,245 326,263 351,276 365,266 375,274 380.6,294.5 375,327.6 386.5,345 392,361 388.4,363.2 346.4,358.3 334.7,365 337.6,381.75 307.4,396.4 298.6,416 251.7,392.5 255,330" fill="#e0e0e0" stroke="#cfcfcf" stroke-width="0.8" stroke-linejoin="round" />
<polyline points="375,274 380.6,294.5 375,327.6 386.5,345 392,361" fill="none" stroke="#c6c6c6" stroke-width="1.6" stroke-linejoin="round" stroke-linecap="round" />
<polyline points="346.4,358.3 334.7,365 337.6,381.75 307.4,396.4 298.6,416" fill="none" stroke="#c6c6c6" stroke-width="1.8" stroke-linejoin="round" stroke-linecap="round" />
<polygon points="276,272 280,266 291,277 298.6,294.5 299,300 276,300" fill="#12a19a" stroke="#cdcdcd" stroke-width="1.6" stroke-linejoin="round" />
<polygon points="283,326 298.6,326 299.6,335.5 290.8,341.3 283,337.4" fill="#abc7be" stroke="#cdcdcd" stroke-width="1.6" stroke-linejoin="round" />
<polygon points="283,326 298.6,326 299,331 283,327.5" fill="#0d8680" />
<polygon points="325,288.6 333.75,277 340.6,288.6 341.5,300 324,300" fill="#12a19a" stroke="#cdcdcd" stroke-width="1.6" stroke-linejoin="round" />
<polygon points="318,331.5 324,326 339.6,326 339.6,341.3 318,335.5" fill="#12a19a" stroke="#cdcdcd" stroke-width="1.6" stroke-linejoin="round" />
<polygon points="359,291.5 362,290 365,294.5 361,296" fill="#12a19a" stroke="#cdcdcd" stroke-width="1.6" stroke-linejoin="round" />
<polygon points="302.5,362 317,374 300.5,383.7 296.6,374" fill="#ececec" stroke="#cdcdcd" stroke-width="1.6" stroke-linejoin="round" />
<polygon points="265,355 276,376 265,379" fill="#ececec" stroke="#cdcdcd" stroke-width="1.6" stroke-linejoin="round" />
<polygon points="453,215 465,214.8 449,243 441,262 434,291.6 409,291.6 418,281 438,259 438,235" fill="#f4f4f4" stroke="#c9c9c9" stroke-width="0.7" stroke-linejoin="round" />
<polyline points="459,215 443,244 436,262 424,288" fill="none" stroke="#c9c9c9" stroke-width="0.5" stroke-linejoin="round" stroke-linecap="round" />
<polyline points="455.0,220.0 462.0,219.5" fill="none" stroke="#d8d8d8" stroke-width="0.4" stroke-linejoin="round" stroke-linecap="round" />
<polyline points="451.8,225.2 458.8,224.7" fill="none" stroke="#d8d8d8" stroke-width="0.4" stroke-linejoin="round" stroke-linecap="round" />
<polyline points="448.6,230.4 455.6,229.9" fill="none" stroke="#d8d8d8" stroke-width="0.4" stroke-linejoin="round" stroke-linecap="round" />
<polyline points="445.4,235.6 452.4,235.1" fill="none" stroke="#d8d8d8" stroke-width="0.4" stroke-linejoin="round" stroke-linecap="round" />
<polyline points="442.2,240.8 449.2,240.3" fill="none" stroke="#d8d8d8" stroke-width="0.4" stroke-linejoin="round" stroke-linecap="round" />
<polyline points="439.0,246.0 446.0,245.5" fill="none" stroke="#d8d8d8" stroke-width="0.4" stroke-linejoin="round" stroke-linecap="round" />
<polyline points="435.8,251.2 442.8,250.7" fill="none" stroke="#d8d8d8" stroke-width="0.4" stroke-linejoin="round" stroke-linecap="round" />
<polyline points="432.6,256.4 439.6,255.9" fill="none" stroke="#d8d8d8" stroke-width="0.4" stroke-linejoin="round" stroke-linecap="round" />
<polyline points="429.4,261.6 436.4,261.1" fill="none" stroke="#d8d8d8" stroke-width="0.4" stroke-linejoin="round" stroke-linecap="round" />
<polyline points="426.2,266.8 433.2,266.3" fill="none" stroke="#d8d8d8" stroke-width="0.4" stroke-linejoin="round" stroke-linecap="round" />
<polyline points="423.0,272.0 430.0,271.5" fill="none" stroke="#d8d8d8" stroke-width="0.4" stroke-linejoin="round" stroke-linecap="round" />
<polyline points="419.8,277.2 426.8,276.7" fill="none" stroke="#d8d8d8" stroke-width="0.4" stroke-linejoin="round" stroke-linecap="round" />
<polyline points="416.6,282.4 423.6,281.9" fill="none" stroke="#d8d8d8" stroke-width="0.4" stroke-linejoin="round" stroke-linecap="round" />
<polyline points="413.4,287.6 420.4,287.1" fill="none" stroke="#d8d8d8" stroke-width="0.4" stroke-linejoin="round" stroke-linecap="round" />
<polygon points="440,275 450,262 452,264 436,290" fill="#f4f4f4" stroke="#c9c9c9" stroke-width="0.5" stroke-linejoin="round" />
<polygon points="262,240 279,242 326,259 351,271 365,261 422.5,268 446,243 446,249 422.5,273.5 365,266.5 351,276.5 326,264 279,247 262,245" fill="#ab9e86" />
<path d="M493,148 C495.8,146.3 505.5,140.8 510.0,138.0 C514.5,135.2 515.0,130.8 520.0,131.0 C525.0,131.2 534.0,136.0 540.0,139.0 C546.0,142.0 554.0,145.5 556.0,149.0 C558.0,152.5 553.7,156.2 552.0,160.0 C550.3,163.8 548.8,168.0 546.0,172.0 C543.2,176.0 539.3,180.6 535.0,184.0 C530.7,187.4 525.8,189.8 520.0,192.5 C514.2,195.2 503.3,198.8 500.0,200.0 L470,205 L460,158 Z" fill="#ab9e86" transform="translate(1.5,3)"/>
<polygon points="264,190 276,176 290,140 460,158 493,148 500,200 470,205 447,215 447.5,236 446,243 422.5,268 365,261 351,271 326,259 279,242 262,240" fill="#c9b99c" />
<path d="M493,148 C495.8,146.3 505.5,140.8 510.0,138.0 C514.5,135.2 515.0,130.8 520.0,131.0 C525.0,131.2 534.0,136.0 540.0,139.0 C546.0,142.0 554.0,145.5 556.0,149.0 C558.0,152.5 553.7,156.2 552.0,160.0 C550.3,163.8 548.8,168.0 546.0,172.0 C543.2,176.0 539.3,180.6 535.0,184.0 C530.7,187.4 525.8,189.8 520.0,192.5 C514.2,195.2 503.3,198.8 500.0,200.0 L470,205 L460,158 Z" fill="#c9b99c" />
<path d="M330,181 C336.2,183.9 354.3,193.9 367.0,198.5 C379.7,203.1 392.2,206.0 406.0,208.5 C419.8,211.0 442.7,212.7 450.0,213.5" fill="none" stroke="#ab9e86" stroke-width="3" stroke-linejoin="round" stroke-linecap="round" />
<polygon points="369,250 423,259.4 446.4,239.6 446,236 427.5,234 424,238 440,240 421,252 371,244" fill="#f4f4f4" stroke="#c9c9c9" stroke-width="0.7" stroke-linejoin="round" />
<polygon points="369,250 423,259.4 446.4,239.6 446.4,243.3 423,266.7 369,257" fill="#f8f8f8" stroke="#c9c9c9" stroke-width="0.7" stroke-linejoin="round" />
<polygon points="352,229 352,252.5 369,256 369,232.5" fill="#f4f4f4" stroke="#c9c9c9" stroke-width="0.7" stroke-linejoin="round" />
<polygon points="352,229 362.5,219 379,222.5 369,232.5" fill="#fbfbfb" stroke="#c9c9c9" stroke-width="0.7" stroke-linejoin="round" />
<polygon points="369,232.5 379,222.5 379,245 369,256" fill="#ececec" stroke="#c9c9c9" stroke-width="0.7" stroke-linejoin="round" />
<polygon points="408,246 411,241 416,241 413,246" fill="#f26a21" />
<polygon points="409,231.6 421.5,214.8 434,217 438.3,218.4 432.5,231.6 425,239 412,236" fill="#f4f4f4" stroke="#c9c9c9" stroke-width="0.7" stroke-linejoin="round" />
<polyline points="414.0,231.0 426.0,233.0" fill="none" stroke="#d8d8d8" stroke-width="0.4" stroke-linejoin="round" stroke-linecap="round" />
<polyline points="416.0,228.3 428.0,230.3" fill="none" stroke="#d8d8d8" stroke-width="0.4" stroke-linejoin="round" stroke-linecap="round" />
<polyline points="418.0,225.6 430.0,227.6" fill="none" stroke="#d8d8d8" stroke-width="0.4" stroke-linejoin="round" stroke-linecap="round" />
<polyline points="420.0,222.9 432.0,224.9" fill="none" stroke="#d8d8d8" stroke-width="0.4" stroke-linejoin="round" stroke-linecap="round" />
<polyline points="422.0,220.2 434.0,222.2" fill="none" stroke="#d8d8d8" stroke-width="0.4" stroke-linejoin="round" stroke-linecap="round" />
<polyline points="424.0,217.5 436.0,219.5" fill="none" stroke="#d8d8d8" stroke-width="0.4" stroke-linejoin="round" stroke-linecap="round" />
<polygon points="425,233 444,235.3 444,240.4 425,239" fill="#fafafa" stroke="#c9c9c9" stroke-width="0.5" stroke-linejoin="round" />
<polygon points="292,111.7 279,176 276,182 298.8,190 349.6,203.5 356.4,196.7 369,150.8 372,140 330,122 300,110" fill="#e0e0e0" stroke="#cfcfcf" stroke-width="0.8" stroke-linejoin="round" />
<polygon points="336,156.6 345,151 353.5,153.7 356.4,164.5 351.5,170 340,166" fill="#c9b99c" stroke="#cdcdcd" stroke-width="1.4" stroke-linejoin="round" />
<polygon points="302.7,165.4 310.5,164.5 323,178 308.6,180" fill="#c9b99c" stroke="#cdcdcd" stroke-width="1.4" stroke-linejoin="round" />
<polygon points="292,138 297,135 299,146 293,148" fill="#d0d0d0" stroke="#cdcdcd" stroke-width="1.0" stroke-linejoin="round" />
<polygon points="277,176 288,195.7 288,199.6 276.4,186" fill="#f4f4f4" stroke="#c9c9c9" stroke-width="0.7" stroke-linejoin="round" />
<polygon points="276.4,186 288,199.6 276.4,207" fill="#ab9e86" />
<polygon points="365,148 380,148 380,178 362,178" fill="#f4f4f4" stroke="#c9c9c9" stroke-width="0.7" stroke-linejoin="round" />
<polyline points="370,148 367,178" fill="none" stroke="#c9c9c9" stroke-width="0.5" stroke-linejoin="round" stroke-linecap="round" />
<polyline points="375,148 373,178" fill="none" stroke="#c9c9c9" stroke-width="0.5" stroke-linejoin="round" stroke-linecap="round" />
<polygon points="380,176 412,159 426,161 406,184 385,180" fill="#f4f4f4" stroke="#c9c9c9" stroke-width="0.7" stroke-linejoin="round" />
<polyline points="386,177 416,161" fill="none" stroke="#c9c9c9" stroke-width="0.5" stroke-linejoin="round" stroke-linecap="round" />
<polyline points="392,181 421,162" fill="none" stroke="#c9c9c9" stroke-width="0.5" stroke-linejoin="round" stroke-linecap="round" />
<polyline points="392.0,172.0 398.0,177.0" fill="none" stroke="#d8d8d8" stroke-width="0.4" stroke-linejoin="round" stroke-linecap="round" />
<polyline points="396.0,169.9 402.0,174.9" fill="none" stroke="#d8d8d8" stroke-width="0.4" stroke-linejoin="round" stroke-linecap="round" />
<polyline points="400.0,167.8 406.0,172.8" fill="none" stroke="#d8d8d8" stroke-width="0.4" stroke-linejoin="round" stroke-linecap="round" />
<polyline points="404.0,165.7 410.0,170.7" fill="none" stroke="#d8d8d8" stroke-width="0.4" stroke-linejoin="round" stroke-linecap="round" />
<polyline points="408.0,163.6 414.0,168.6" fill="none" stroke="#d8d8d8" stroke-width="0.4" stroke-linejoin="round" stroke-linecap="round" />
<polyline points="412.0,161.5 418.0,166.5" fill="none" stroke="#d8d8d8" stroke-width="0.4" stroke-linejoin="round" stroke-linecap="round" />
<polyline points="416.0,159.4 422.0,164.4" fill="none" stroke="#d8d8d8" stroke-width="0.4" stroke-linejoin="round" stroke-linecap="round" />
<path d="M308.6,125.4 L296,138 C296.8,140.4 295.5,146.0 300.8,152.7 C306.1,159.4 317.0,170.8 328.0,178.0 C339.0,185.2 354.0,191.1 367.0,195.7 C380.0,200.3 392.2,203.1 406.0,205.5 C419.8,207.9 435.2,209.4 450.0,210.4 C464.8,211.4 480.0,211.3 495.0,211.5 C510.0,211.7 525.8,211.6 540.0,211.5 C554.2,211.4 573.3,211.1 580.0,211.0 L588,210 Q595,208 598,202 L609,184 Q611,178 606,174 L565,156 L660,160 Q676,159 676,148 Q676,141 668,141 L559,142.5 L540,166 L590,186 C585.0,186.3 571.7,187.3 560.0,188.0 C548.3,188.7 532.3,189.3 520.0,190.0 C507.7,190.7 497.7,191.6 486.0,192.0 C474.3,192.4 463.3,193.0 450.0,192.5 C436.7,192.0 419.8,191.1 406.0,189.0 C392.2,186.9 378.3,184.1 367.0,180.0 C355.7,175.9 346.4,171.0 338.0,164.5 C329.6,158.0 320.0,144.9 316.4,141.0 L322,133 Z" fill="#c2c400" transform="translate(0.3,2)"/>
<path d="M308.6,125.4 L296,138 C296.8,140.4 295.5,146.0 300.8,152.7 C306.1,159.4 317.0,170.8 328.0,178.0 C339.0,185.2 354.0,191.1 367.0,195.7 C380.0,200.3 392.2,203.1 406.0,205.5 C419.8,207.9 435.2,209.4 450.0,210.4 C464.8,211.4 480.0,211.3 495.0,211.5 C510.0,211.7 525.8,211.6 540.0,211.5 C554.2,211.4 573.3,211.1 580.0,211.0 L588,210 Q595,208 598,202 L609,184 Q611,178 606,174 L565,156 L660,160 Q676,159 676,148 Q676,141 668,141 L559,142.5 L540,166 L590,186 C585.0,186.3 571.7,187.3 560.0,188.0 C548.3,188.7 532.3,189.3 520.0,190.0 C507.7,190.7 497.7,191.6 486.0,192.0 C474.3,192.4 463.3,193.0 450.0,192.5 C436.7,192.0 419.8,191.1 406.0,189.0 C392.2,186.9 378.3,184.1 367.0,180.0 C355.7,175.9 346.4,171.0 338.0,164.5 C329.6,158.0 320.0,144.9 316.4,141.0 L322,133 Z" fill="#dfdf00" />
<polygon points="525,124 532.5,110 585,112.5 585,125" fill="#c2c400" transform="translate(0,2.5)"/>
<polygon points="525,124 532.5,110 585,112.5 585,125" fill="#dfdf00" />
<path d="M297.5,115.5 L317,106 L340,90 L366,75 C372.5,74.3 390.2,71.4 405.0,71.0 C419.8,70.6 443.2,71.2 455.0,72.5 C466.8,73.8 468.5,76.4 476.0,79.0 C483.5,81.6 493.5,84.5 500.0,88.0 C506.5,91.5 513.3,93.8 515.0,100.0 C516.7,106.2 514.2,118.3 510.0,125.0 C505.8,131.7 498.8,134.8 490.0,140.0 C481.2,145.2 462.5,153.3 457.0,156.0 C452.5,155.9 440.8,156.8 430.0,155.5 C419.2,154.2 405.0,150.8 392.5,148.0 C380.0,145.2 366.7,142.0 355.0,139.0 C343.3,136.0 332.1,133.9 322.5,130.0 C312.9,126.1 301.7,117.9 297.5,115.5 Z" fill="#7ba51a" transform="translate(0,3)"/>
<path d="M297.5,115.5 L317,106 L340,90 L366,75 C372.5,74.3 390.2,71.4 405.0,71.0 C419.8,70.6 443.2,71.2 455.0,72.5 C466.8,73.8 468.5,76.4 476.0,79.0 C483.5,81.6 493.5,84.5 500.0,88.0 C506.5,91.5 513.3,93.8 515.0,100.0 C516.7,106.2 514.2,118.3 510.0,125.0 C505.8,131.7 498.8,134.8 490.0,140.0 C481.2,145.2 462.5,153.3 457.0,156.0 C452.5,155.9 440.8,156.8 430.0,155.5 C419.2,154.2 405.0,150.8 392.5,148.0 C380.0,145.2 366.7,142.0 355.0,139.0 C343.3,136.0 332.1,133.9 322.5,130.0 C312.9,126.1 301.7,117.9 297.5,115.5 Z" fill="#94c11f" />
<polygon points="367.5,91 416,87 416,91 431,96 414,109 386,114.5 379,109 368,100" fill="#a6d8f2" />
<polygon points="351.5,108.8 351.5,127 367,132.2 367,111.7" fill="#f4f4f4" stroke="#c9c9c9" stroke-width="0.7" stroke-linejoin="round" />
<polygon points="351.5,108.8 365,97.5 379,101 367,111.7" fill="#fbfbfb" stroke="#c9c9c9" stroke-width="0.7" stroke-linejoin="round" />
<polygon points="367,111.7 379,101 379,119 367,132.2" fill="#ececec" stroke="#c9c9c9" stroke-width="0.7" stroke-linejoin="round" />
<polygon points="415,118 419,116 419,124 432,124 432,117 436.5,116 434,134 415,134" fill="#f4f4f4" stroke="#c9c9c9" stroke-width="0.7" stroke-linejoin="round" />
<polygon points="419,124 432,124 433,129 417,129" fill="#ececec" />
<path d="M334,66 L340,64 L511.6,64 L534.8,108.3 C532.8,111.7 529.3,122.2 522.5,128.8 C515.7,135.4 504.7,143.0 493.8,148.0 C482.9,153.0 463.1,157.2 457.0,159.0 L457,148 L461,127.5 L447.3,105.6 L455.5,94 L463.75,94.6 L473.3,79 L455,72.5 L405,71 L366,75 L345,83 L338,76 Z" fill="#e0e0e0" stroke="#cfcfcf" stroke-width="0.8" stroke-linejoin="round" stroke-linecap="round" />
<polyline points="447.3,105.6 455.5,94 463.75,94.6 473.3,79" fill="none" stroke="#f6f6f6" stroke-width="1.6" stroke-linejoin="round" stroke-linecap="round" />
<polyline points="447.3,105.6 461,127.5 457,148" fill="none" stroke="#f6f6f6" stroke-width="1.4" stroke-linejoin="round" stroke-linecap="round" />
<path d="M454.5,102.0 C455.1,99.4 459.2,98.3 462.0,99.0 C464.8,99.7 470.7,103.2 471.5,106.0 C472.3,108.8 469.2,114.6 467.0,116.0 C464.8,117.4 460.6,116.8 458.5,114.5 C456.4,112.2 453.9,104.6 454.5,102.0 Z" fill="#94c11f" stroke="#cbcbcb" stroke-width="1.0" stroke-linejoin="round" stroke-linecap="round" />
<path d="M470.5,96.0 C470.8,94.2 474.8,91.5 476.5,92.5 C478.2,93.5 481.3,100.2 481.0,102.0 C480.7,103.8 476.2,104.0 474.5,103.0 C472.8,102.0 470.2,97.8 470.5,96.0 Z" fill="#94c11f" stroke="#cbcbcb" stroke-width="1.0" stroke-linejoin="round" stroke-linecap="round" />
<path d="M480.0,84.0 C480.8,82.6 483.8,79.7 485.5,81.0 C487.2,82.3 490.5,89.6 490.5,92.0 C490.5,94.4 487.1,95.9 485.5,95.5 C483.9,95.1 481.9,91.4 481.0,89.5 C480.1,87.6 479.2,85.4 480.0,84.0 Z" fill="#94c11f" stroke="#cbcbcb" stroke-width="1.0" stroke-linejoin="round" stroke-linecap="round" />
<path d="M495.0,98.0 C495.4,95.7 499.4,93.2 501.5,94.0 C503.6,94.8 506.7,99.7 507.5,102.5 C508.3,105.3 507.9,110.1 506.5,111.0 C505.1,111.9 500.9,110.2 499.0,108.0 C497.1,105.8 494.6,100.3 495.0,98.0 Z" fill="#94c11f" stroke="#cbcbcb" stroke-width="1.0" stroke-linejoin="round" stroke-linecap="round" />
<path d="M480.0,116.5 C480.8,112.2 482.2,106.7 486.0,108.0 C489.8,109.3 501.6,119.7 502.5,124.5 C503.4,129.3 495.0,135.5 491.5,137.0 C488.0,138.5 483.4,136.9 481.5,133.5 C479.6,130.1 479.2,120.8 480.0,116.5 Z" fill="#94c11f" stroke="#cbcbcb" stroke-width="1.0" stroke-linejoin="round" stroke-linecap="round" />
<path d="M508.5,90.0 C509.0,89.6 515.2,92.5 516.0,93.5 C516.8,94.5 514.2,96.6 513.0,96.0 C511.8,95.4 508.0,90.4 508.5,90.0 Z" fill="#94c11f" stroke="#cbcbcb" stroke-width="1.0" stroke-linejoin="round" stroke-linecap="round" />
<path d="M471.0,74.5 C471.6,73.1 476.0,69.3 477.5,69.5 C479.0,69.7 480.6,74.1 480.0,75.5 C479.4,76.9 475.5,78.2 474.0,78.0 C472.5,77.8 470.4,75.9 471.0,74.5 Z" fill="#ffffff" stroke="#cbcbcb" stroke-width="1.0" stroke-linejoin="round" stroke-linecap="round" />
<path d="M493.5,67.5 C493.6,65.6 495.6,63.9 496.5,64.8 C497.4,65.7 499.1,71.1 499.0,73.0 C498.9,74.9 496.9,76.9 496.0,76.0 C495.1,75.1 493.4,69.4 493.5,67.5 Z" fill="#ffffff" stroke="#cbcbcb" stroke-width="1.0" stroke-linejoin="round" stroke-linecap="round" />
<path d="M507.0,86.5 C507.8,85.5 512.8,83.3 514.5,84.0 C516.2,84.7 518.2,89.5 517.5,90.5 C516.8,91.5 511.8,90.7 510.0,90.0 C508.2,89.3 506.2,87.5 507.0,86.5 Z" fill="#f2f2f2" stroke="#cbcbcb" stroke-width="1.0" stroke-linejoin="round" stroke-linecap="round" />
<path d="M504.0,68.0 C504.3,66.0 506.8,64.7 508.0,66.0 C509.2,67.3 511.3,74.0 511.0,76.0 C510.7,78.0 507.2,79.3 506.0,78.0 C504.8,76.7 503.7,70.0 504.0,68.0 Z" fill="#ececec" stroke="#cbcbcb" stroke-width="1.0" stroke-linejoin="round" stroke-linecap="round" />
<polygon points="271,109 280,109 277,180 273,245 271,300 269,391 260,391 249,384 254,300 262,207 266,170" fill="url(#wf)" opacity="0.92"/>
<polygon points="279,108 312.5,108 312.5,112 293,114.6 279,114" fill="#a6d8f2" />
<clipPath id="notTeal"><path clip-rule="evenodd" d="M0,0 H1024 V683 H0 Z M276,262 L300,250 L400,235 L452,233 L495,236 L545,247.5 L580,262.5 L602.5,277.5 L611,288 L612.5,297 L608,305 L595,315 L570,330 L545,340 L520,349 L495,354 L470,357.5 L445,360 L430,362 L410,359 L390,354 L340,340 L300,329 L276,322 Z"/></clipPath>
<g clip-path="url(#notTeal)">
<path d="M540,249 L672.5,207.5 L760,220 L777,224 L812,256 L839.5,281.5 L834,341 L821,438 Q819,462 806,467 L718,502 L676,515 L595,534 L506,544.5 Q490,546 484,536 L412,409 L436.5,366 L457,366 L429,411.5 L496,527.5 L595,519 L676,501 L802.5,450 L819,341 L823,287.5 L787,256 L740,232 L720,229 L672.5,220 L560,255 Z" fill="#0d8680" transform="translate(0,4)"/>
</g>
<path d="M540,249 L672.5,207.5 L760,220 L777,224 L812,256 L839.5,281.5 L834,341 L821,438 Q819,462 806,467 L718,502 L676,515 L595,534 L506,544.5 Q490,546 484,536 L412,409 L436.5,366 L457,366 L429,411.5 L496,527.5 L595,519 L676,501 L802.5,450 L819,341 L823,287.5 L787,256 L740,232 L720,229 L672.5,220 L560,255 Z" fill="#12a19a" />
<polygon points="412,409 486,540 484.5,541 410.5,410" fill="#0d8680" />
</g><g>
<rect x="242.5" y="76.5" width="123" height="30.5" rx="8.5" ry="8.5" fill="#586e33" stroke="#dfe6cf" stroke-opacity="0.9" stroke-width="1"/>
<text x="256" y="98" font-size="16" textLength="95" lengthAdjust="spacingAndGlyphs">LOST WORLD</text>
<rect x="588.5" y="109.5" width="123" height="29" rx="8.5" ry="8.5" fill="#806531" stroke="#f3c27e" stroke-opacity="0.9" stroke-width="1"/>
<text x="602" y="130.5" font-size="16" textLength="97.5" lengthAdjust="spacingAndGlyphs">CLOUD WALK</text>
<rect x="71.25" y="181.0" width="151.25" height="28.5" rx="8.5" ry="8.5" fill="#667b85" stroke="#9fb7c2" stroke-opacity="0.9" stroke-width="1"/>
<text x="84.5" y="201" font-size="16" textLength="125.5" lengthAdjust="spacingAndGlyphs">WATERFALL VIEW</text>
<rect x="209" y="210" width="118" height="30" rx="8" ry="8" fill="#716a5d" stroke="#ffffff" stroke-opacity="0.85" stroke-width="2"/>
<text x="223.5" y="231.5" font-size="16" textLength="89.0" lengthAdjust="spacingAndGlyphs">THE CAVERN</text>
<rect x="723.0" y="224.25" width="139.0" height="29.0" rx="8.5" ry="8.5" fill="#69726e" stroke="#c3ccc8" stroke-opacity="0.9" stroke-width="1"/>
<text x="737" y="245" font-size="16" textLength="112" lengthAdjust="spacingAndGlyphs">TREE TOP WALK</text>
<rect x="277" y="294.5" width="175" height="30.5" rx="8" ry="8" fill="#17a098" stroke="#ffffff" stroke-opacity="0.85" stroke-width="2"/>
<text x="291" y="316" font-size="16" textLength="146" lengthAdjust="spacingAndGlyphs">CRYSTAL MOUNTAIN</text>
<rect x="611.3" y="323" width="146.4000000000001" height="29.30000000000001" rx="8" ry="8" fill="#245a3c" stroke="#ffffff" stroke-opacity="0.85" stroke-width="2"/>
<text x="624.5" y="344.3" font-size="16" textLength="118.5" lengthAdjust="spacingAndGlyphs">SECRET GARDEN</text>
<rect x="436.5" y="396.5" width="205.0" height="30.5" rx="8" ry="8" fill="#806531" stroke="#ffffff" stroke-opacity="0.85" stroke-width="2"/>
<text x="451" y="418" font-size="16" textLength="176.5" lengthAdjust="spacingAndGlyphs">CLOUD FOREST GALLERY</text>
<rect x="446" y="451.5" width="207" height="31.5" rx="8" ry="8" fill="#806531" stroke="#ffffff" stroke-opacity="0.85" stroke-width="2"/>
<text x="461" y="473" font-size="16" textLength="178" lengthAdjust="spacingAndGlyphs">CLOUD FOREST THEATRE</text>
<rect x="814.75" y="403.5" width="140.25" height="30.5" rx="8" ry="8" fill="#716a5d" stroke="#ffffff" stroke-opacity="0.85" stroke-width="2"/>
<text x="829.5" y="425" font-size="16" textLength="112.5" lengthAdjust="spacingAndGlyphs">ORCHID HAVEN</text>
</g>
</svg>
</body></html>
